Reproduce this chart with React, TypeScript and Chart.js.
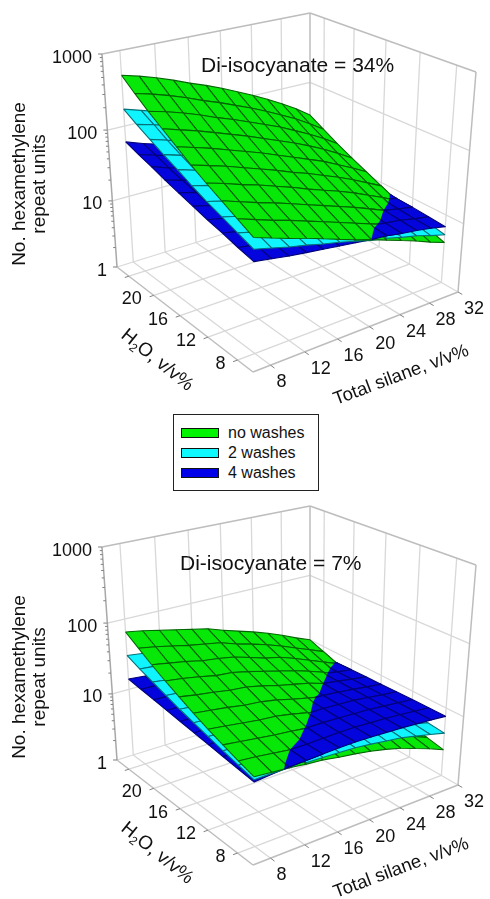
import React, { useEffect, useRef } from "react";
import { Chart, registerables } from "chart.js";

Chart.register(...registerables);

// Axis values
const silaneValues = [8, 10, 12, 14, 16, 18, 20, 22, 24, 26, 28, 30, 32];
const waterValues = [26, 24, 22, 20, 18, 16, 14, 12, 10, 8];
const silaneTicks = [8, 12, 16, 20, 24, 28, 32];
const waterTicks = [8, 12, 16, 20, 24];
const waterLabels = [8, 12, 16, 20];
const zTicks = [1, 10, 100, 1000];
const seriesNames = ["no washes", "2 washes", "4 washes"];

// log10(no. of repeat units). Rows follow waterValues, columns follow silaneValues.
const noWashes34 = [
  [2.68,2.62,2.55,2.47,2.38,2.30,2.21,2.11,2.01,1.90,1.78,1.65,1.50],
  [2.53,2.47,2.40,2.32,2.23,2.15,2.06,1.97,1.87,1.76,1.65,1.52,1.38],
  [2.39,2.33,2.26,2.18,2.09,2.01,1.92,1.83,1.74,1.63,1.52,1.40,1.26],
  [2.26,2.19,2.12,2.04,1.96,1.88,1.79,1.70,1.61,1.51,1.40,1.28,1.15],
  [2.13,2.06,1.99,1.91,1.83,1.75,1.66,1.57,1.48,1.39,1.28,1.17,1.05],
  [2.00,1.93,1.86,1.78,1.70,1.62,1.53,1.45,1.36,1.27,1.17,1.06,0.95],
  [1.88,1.81,1.73,1.66,1.58,1.50,1.41,1.33,1.25,1.16,1.06,0.96,0.85],
  [1.77,1.69,1.61,1.54,1.46,1.38,1.30,1.22,1.14,1.05,0.96,0.86,0.76],
  [1.66,1.58,1.50,1.43,1.35,1.27,1.19,1.11,1.03,0.95,0.86,0.77,0.68],
  [1.55,1.47,1.39,1.32,1.24,1.16,1.08,1.01,0.93,0.85,0.77,0.68,0.60],
];
const twoWashes34 = [
  [2.23,2.16,2.09,2.02,1.94,1.87,1.80,1.72,1.64,1.56,1.48,1.38,1.28],
  [2.12,2.06,1.99,1.91,1.84,1.77,1.70,1.63,1.55,1.47,1.39,1.30,1.20],
  [2.02,1.95,1.89,1.82,1.75,1.68,1.61,1.54,1.47,1.39,1.31,1.22,1.13],
  [1.92,1.85,1.79,1.72,1.66,1.59,1.52,1.45,1.39,1.31,1.24,1.15,1.06],
  [1.83,1.76,1.70,1.63,1.57,1.51,1.44,1.37,1.30,1.24,1.16,1.08,0.985],
  [1.73,1.67,1.61,1.54,1.48,1.42,1.35,1.29,1.23,1.16,1.09,1.005,0.92],
  [1.64,1.58,1.52,1.46,1.40,1.34,1.27,1.21,1.16,1.09,1.015,0.94,0.86],
  [1.56,1.50,1.43,1.38,1.32,1.26,1.20,1.15,1.085,1.02,0.95,0.88,0.81],
  [1.48,1.42,1.35,1.30,1.25,1.19,1.13,1.08,1.015,0.955,0.895,0.825,0.765],
  [1.40,1.34,1.28,1.23,1.17,1.12,1.06,1.00,0.955,0.895,0.845,0.775,0.715],
];
const fourWashes34 = [
  [1.78,1.70,1.63,1.56,1.50,1.44,1.38,1.32,1.27,1.22,1.17,1.11,1.05],
  [1.71,1.64,1.57,1.50,1.45,1.39,1.33,1.28,1.23,1.18,1.13,1.07,1.02],
  [1.65,1.57,1.51,1.45,1.40,1.34,1.29,1.24,1.19,1.15,1.10,1.04,0.99],
  [1.58,1.51,1.45,1.40,1.35,1.30,1.25,1.20,1.16,1.11,1.07,1.01,0.96],
  [1.52,1.46,1.40,1.35,1.30,1.26,1.21,1.16,1.12,1.08,1.04,0.99,0.93],
  [1.46,1.40,1.35,1.30,1.26,1.21,1.17,1.13,1.09,1.05,1.01,0.96,0.91],
  [1.40,1.35,1.30,1.25,1.21,1.17,1.13,1.09,1.06,1.02,0.98,0.93,0.88],
  [1.35,1.30,1.25,1.21,1.17,1.14,1.10,1.07,1.03,1.00,0.96,0.91,0.87],
  [1.29,1.25,1.20,1.17,1.14,1.10,1.07,1.04,1.01,0.97,0.94,0.89,0.85],
  [1.24,1.20,1.16,1.13,1.10,1.07,1.04,1.01,0.99,0.95,0.92,0.88,0.83],
];
const noWashes7 = [
  [1.82,1.78,1.73,1.68,1.63,1.58,1.50,1.43,1.36,1.28,1.19,1.09,1.00],
  [1.70,1.66,1.61,1.56,1.52,1.48,1.40,1.34,1.27,1.19,1.10,1.01,0.92],
  [1.58,1.54,1.50,1.45,1.42,1.38,1.31,1.24,1.19,1.11,1.02,0.93,0.84],
  [1.47,1.44,1.40,1.35,1.33,1.28,1.22,1.16,1.10,1.03,0.95,0.85,0.76],
  [1.37,1.33,1.30,1.26,1.24,1.19,1.13,1.08,1.03,0.96,0.87,0.78,0.69],
  [1.27,1.24,1.21,1.17,1.15,1.11,1.05,1.00,0.95,0.88,0.80,0.71,0.62],
  [1.18,1.15,1.12,1.09,1.07,1.03,0.98,0.93,0.89,0.82,0.73,0.65,0.55],
  [1.10,1.07,1.04,1.01,0.99,0.96,0.91,0.87,0.82,0.75,0.67,0.59,0.49],
  [1.02,1.00,0.97,0.94,0.92,0.89,0.85,0.81,0.76,0.70,0.61,0.53,0.44],
  [0.95,0.93,0.91,0.88,0.86,0.82,0.79,0.75,0.70,0.64,0.56,0.48,0.39],
];
const twoWashes7 = [
  [1.49,1.46,1.42,1.39,1.35,1.32,1.27,1.22,1.18,1.13,1.06,0.985,0.915],
  [1.41,1.39,1.35,1.32,1.29,1.26,1.21,1.17,1.13,1.08,1.015,0.95,0.88],
  [1.34,1.31,1.29,1.26,1.23,1.21,1.16,1.12,1.09,1.04,0.975,0.91,0.845],
  [1.27,1.25,1.22,1.20,1.18,1.15,1.11,1.08,1.04,1.00,0.94,0.87,0.81],
  [1.20,1.18,1.17,1.15,1.13,1.10,1.07,1.03,1.00,0.95,0.90,0.84,0.78],
  [1.14,1.13,1.11,1.09,1.08,1.05,1.015,0.985,0.955,0.915,0.86,0.80,0.745],
  [1.08,1.07,1.06,1.04,1.03,1.00,0.97,0.945,0.925,0.885,0.83,0.77,0.71],
  [1.02,1.01,1.00,0.985,0.975,0.955,0.94,0.915,0.885,0.85,0.795,0.745,0.685],
  [0.965,0.96,0.95,0.93,0.925,0.92,0.90,0.885,0.86,0.82,0.765,0.715,0.66],
  [0.91,0.915,0.91,0.90,0.895,0.885,0.875,0.85,0.82,0.79,0.74,0.69,0.635],
];
const fourWashes7 = [
  [1.15,1.13,1.11,1.09,1.07,1.05,1.03,1.01,1.00,0.98,0.93,0.88,0.83],
  [1.12,1.11,1.09,1.07,1.06,1.04,1.02,1.00,0.99,0.97,0.93,0.885,0.84],
  [1.09,1.08,1.07,1.06,1.04,1.03,1.01,1.00,0.99,0.97,0.93,0.89,0.85],
  [1.06,1.06,1.05,1.04,1.03,1.02,1.00,0.99,0.98,0.96,0.93,0.89,0.86],
  [1.03,1.03,1.03,1.03,1.02,1.01,1.00,0.98,0.97,0.96,0.93,0.895,0.865],
  [1.00,1.01,1.01,1.01,1.00,1.00,0.99,0.98,0.97,0.95,0.925,0.895,0.87],
  [0.97,0.98,0.99,0.98,0.98,0.98,0.97,0.97,0.96,0.95,0.925,0.895,0.875],
  [0.94,0.95,0.96,0.97,0.965,0.965,0.965,0.96,0.95,0.94,0.92,0.90,0.88],
  [0.91,0.925,0.94,0.94,0.94,0.95,0.955,0.955,0.945,0.935,0.92,0.90,0.88],
  [0.88,0.905,0.92,0.93,0.94,0.95,0.955,0.95,0.94,0.93,0.915,0.90,0.88],
];

// Look
const W = 490;
const H = 406;
const FONT = '"Liberation Sans", Arial, sans-serif';
const fills = ["#08e808", "#10f4ff", "#0404dc"];
const meshLines = ["#046404", "#057078", "#020278"];
const legendFills = ["#00f400", "#10f8ff", "#0000e8"];
const GRID = "#d8d8d8";
const EDGE = "#bdbdbd";
const AXIS = "#a8a8a8";
const TICK = "#808080";

// The view: a perspective box. Silane 6..32, water 6..26, three decades high.
type P = { x: number; y: number };
const S0 = 6, S1 = 32, W0 = 6, W1 = 26;
function quadMap(q: number[][]) {
  const [[x0, y0], [x1, y1], [x2, y2], [x3, y3]] = q;
  const dx1 = x1 - x2, dx2 = x3 - x2, sx = x0 - x1 + x2 - x3;
  const dy1 = y1 - y2, dy2 = y3 - y2, sy = y0 - y1 + y2 - y3;
  const den = dx1 * dy2 - dx2 * dy1;
  const g = (sx * dy2 - dx2 * sy) / den;
  const h = (dx1 * sy - sx * dy1) / den;
  const a = x1 - x0 + g * x1, b = x3 - x0 + h * x3;
  const d = y1 - y0 + g * y1, e = y3 - y0 + h * y3;
  return (u: number, v: number): P => {
    const k = g * u + h * v + 1;
    return { x: (a * u + b * v + x0) / k, y: (d * u + e * v + y0) / k };
  };
}
const floorMap = quadMap([[253, 372], [458, 292], [310, 207], [117, 267]]);
const ceilMap = quadMap([[250, 131], [476, 72], [310, 13], [102, 54]]);
function project(s: number, w: number, logZ: number): P {
  const u = (s - S0) / (S1 - S0);
  const v = (w - W0) / (W1 - W0);
  const f = floorMap(u, v);
  const c = ceilMap(u, v);
  const t = logZ / 3;
  const g = (0.9 * t) / (1 - 0.1 * t);
  return { x: f.x + (c.x - f.x) * g, y: f.y + (c.y - f.y) * g };
}

type Item = { pts: P[]; fill?: string; stroke?: string; width?: number };

function backdrop(): Item[] {
  const out: Item[] = [];
  const L = (a: P, b: P, stroke: string, width = 1.3) => out.push({ pts: [a, b], stroke, width });
  // floor
  for (const s of silaneTicks.slice(0, -1)) L(project(s, W0, 0), project(s, W1, 0), GRID);
  for (const w of waterTicks) L(project(S0, w, 0), project(S1, w, 0), GRID);
  // back walls
  for (const s of silaneTicks.slice(0, -1)) L(project(s, W1, 0), project(s, W1, 3), GRID);
  for (const w of waterTicks) L(project(S1, w, 0), project(S1, w, 3), GRID);
  for (const z of [1, 2]) {
    L(project(S0, W1, z), project(S1, W1, z), GRID);
    L(project(S1, W1, z), project(S1, W0, z), GRID);
  }
  // box edges
  L(project(S0, W1, 0), project(S1, W1, 0), GRID);
  L(project(S1, W1, 0), project(S1, W0, 0), GRID);
  L(project(S0, W1, 3), project(S1, W1, 3), EDGE, 1.5);
  L(project(S1, W1, 3), project(S1, W0, 3), EDGE, 1.5);
  L(project(S1, W1, 0), project(S1, W1, 3), EDGE, 1.5);
  L(project(S1, W0, 0), project(S1, W0, 3), EDGE, 1.5);
  L(project(S0, W0, 0), project(S1, W0, 0), EDGE, 1.5);
  L(project(S0, W0, 0), project(S0, W1, 0), EDGE, 1.5);
  L(project(S0, W1, 0), project(S0, W1, 3), AXIS, 1.5);
  // ticks
  for (const s of silaneTicks) L(project(s, W0, 0), project(s, W0 - 0.5, 0), TICK, 1);
  for (const w of waterTicks) L(project(S0, w, 0), project(S0 - 0.5, w, 0), TICK, 1);
  for (let d = 0; d < 3; d++) {
    for (let m = 1; m < 10; m++) {
      const p = project(S0, W1, d + Math.log10(m));
      L(p, { x: p.x - (m === 1 ? 4 : 2.5), y: p.y }, TICK, 1);
    }
  }
  const top = project(S0, W1, 3);
  L(top, { x: top.x - 4, y: top.y }, TICK, 1);
  return out;
}

type V = { a: number; b: number };

function surfaceItems(grids: number[][][]): Item[] {
  const out: Item[] = [];
  const nr = waterValues.length - 1;
  const nc = silaneValues.length - 1;
  for (let j = 0; j < nr; j++) {
    for (let i = nc - 1; i >= 0; i--) {
      const s0 = silaneValues[i], s1 = silaneValues[i + 1];
      const w0 = waterValues[j], w1 = waterValues[j + 1];
      const at = (k: number, a: number, b: number) => {
        const g = grids[k];
        const top = g[j][i] * (1 - a) + g[j][i + 1] * a;
        const bot = g[j + 1][i] * (1 - a) + g[j + 1][i + 1] * a;
        return top * (1 - b) + bot * b;
      };
      const pt = (k: number, a: number, b: number) =>
        project(s0 + (s1 - s0) * a, w0 + (w1 - w0) * b, at(k, a, b));
      const rank = (a: number, b: number) =>
        [0, 1, 2].sort((p, q) => at(p, a, b) - at(q, a, b)).join("");
      const order = rank(0.5, 0.5).split("").map(Number);
      for (const k of order) {
        const q = [pt(k, 0, 0), pt(k, 1, 0), pt(k, 1, 1), pt(k, 0, 1), pt(k, 0, 0)];
        out.push({ pts: q, fill: fills[k], stroke: meshLines[k], width: 1.1 });
      }
      const r = rank(0, 0);
      const crossing = [rank(1, 0), rank(0, 1), rank(1, 1)].some((x) => x !== r);
      if (!crossing) continue;
      // Where surfaces cross inside a cell, redraw the part of each that lies on top.
      for (const k of [0, 1, 2]) {
        let poly: V[] = [{ a: 0, b: 0 }, { a: 1, b: 0 }, { a: 1, b: 1 }, { a: 0, b: 1 }];
        for (const o of [0, 1, 2]) {
          if (o === k || poly.length === 0) continue;
          const f = (v: V) => at(k, v.a, v.b) - at(o, v.a, v.b);
          const next: V[] = [];
          poly.forEach((v, n) => {
            const u = poly[(n + 1) % poly.length];
            const fv = f(v), fu = f(u);
            if (fv >= 0) next.push(v);
            if ((fv >= 0) !== (fu >= 0)) {
              const t = fv / (fv - fu);
              next.push({ a: v.a + (u.a - v.a) * t, b: v.b + (u.b - v.b) * t });
            }
          });
          poly = next;
        }
        if (poly.length < 3) continue;
        const proj = poly.map((v) => pt(k, v.a, v.b));
        out.push({ pts: [...proj, proj[0]], fill: fills[k], stroke: fills[k], width: 0.3 });
        poly.forEach((v, n) => {
          const u = poly[(n + 1) % poly.length];
          const onEdge =
            (v.a === u.a && (v.a === 0 || v.a === 1)) || (v.b === u.b && (v.b === 0 || v.b === 1));
          if (onEdge) out.push({ pts: [proj[n], proj[(n + 1) % poly.length]], stroke: meshLines[k], width: 1.1 });
        });
      }
    }
  }
  return out;
}

function textPlugin(title: string, titleX: number, titleY: number) {
  return {
    id: "labels",
    afterDraw(chart: any) {
      const ctx: CanvasRenderingContext2D = chart.ctx;
      ctx.save();
      ctx.fillStyle = "#111";
      ctx.textBaseline = "alphabetic";
      const font = (n: number) => `${n}px ${FONT}`;
      // z axis
      ctx.font = font(18);
      ctx.textAlign = "right";
      zTicks.forEach((z) => {
        const p = project(S0, W1, Math.log10(z));
        ctx.fillText(String(z), p.x - 10, p.y + 8.5);
      });
      waterLabels.forEach((w) => {
        const p = project(S0, w, 0);
        ctx.fillText(String(w), p.x - 12, p.y + 9);
      });
      ctx.textAlign = "left";
      silaneTicks.forEach((s) => {
        const p = project(s, W0, 0);
        ctx.fillText(String(s), p.x + 6, p.y + 22);
      });
      // title
      ctx.font = font(21);
      ctx.fillText(title, titleX, titleY);
      // y axis title
      ctx.font = font(19);
      ctx.textAlign = "center";
      ctx.save();
      ctx.translate(24.5, 184);
      ctx.rotate(-Math.PI / 2);
      ctx.fillText("No. hexamethylene", 0, 0);
      ctx.fillText("repeat units", 0, 20);
      ctx.restore();
      // silane title
      ctx.save();
      ctx.font = font(18.5);
      ctx.translate(403, 380);
      ctx.rotate((-20.5 * Math.PI) / 180);
      ctx.fillText("Total silane, v/v%", 0, 0);
      ctx.restore();
      // water title
      ctx.save();
      ctx.textAlign = "left";
      ctx.translate(120, 337);
      ctx.rotate((39 * Math.PI) / 180);
      ctx.font = font(19);
      ctx.fillText("H", 0, 0);
      let x = ctx.measureText("H").width;
      ctx.font = font(12);
      ctx.fillText("2", x, 4);
      x += ctx.measureText("2").width;
      ctx.font = font(19);
      ctx.fillText("O, v/v%", x, 0);
      ctx.restore();
      ctx.restore();
    },
  };
}

function Panel({ grids, title, titleX, titleY, top }: { grids: number[][][]; title: string; titleX: number; titleY: number; top: number }) {
  const ref = useRef<HTMLCanvasElement>(null);
  useEffect(() => {
    const items = [...backdrop(), ...surfaceItems(grids)];
    const datasets = items
      .map((it) => ({
        data: it.pts,
        showLine: true,
        fill: it.fill ? "shape" : false,
        backgroundColor: it.fill ?? "transparent",
        borderColor: it.stroke ?? "transparent",
        borderWidth: it.width ?? 0,
        borderJoinStyle: "round",
        pointRadius: 0,
        pointHoverRadius: 0,
        tension: 0,
        clip: false,
      }))
      .reverse();
    const chart = new Chart(ref.current as HTMLCanvasElement, {
      type: "scatter",
      data: { datasets: datasets as any },
      options: {
        responsive: false,
        animation: false,
        events: [],
        layout: { padding: 0 },
        plugins: { legend: { display: false }, tooltip: { enabled: false } },
        scales: {
          x: { type: "linear", min: 0, max: W, display: false },
          y: { type: "linear", min: 0, max: H, reverse: true, display: false },
        },
      },
      plugins: [textPlugin(title, titleX, titleY)],
    });
    return () => chart.destroy();
  }, []);
  return <canvas ref={ref} width={W} height={H} style={{ position: "absolute", left: 0, top, width: W, height: H }} />;
}

function Legend() {
  return (
    <div
      style={{
        position: "absolute",
        left: 173,
        top: 414,
        width: 144,
        height: 75,
        border: "1px solid #222",
        background: "#fff",
        boxSizing: "content-box",
        fontFamily: FONT,
        fontSize: 16,
        color: "#111",
      }}
    >
      {seriesNames.map((n, i) => (
        <div key={n} style={{ position: "absolute", left: 7, top: 13 + i * 20, height: 10, display: "flex", alignItems: "center" }}>
          <span style={{ display: "inline-block", width: 36, height: 8, border: "1px solid #111", background: legendFills[i], marginRight: 9 }} />
          <span style={{ lineHeight: "10px" }}>{n}</span>
        </div>
      ))}
    </div>
  );
}

export default function App() {
  return (
    <div style={{ position: "absolute", left: 0, top: 0, width: 490, height: 899, background: "#fff", overflow: "hidden" }}>
      <Panel grids={[noWashes34, twoWashes34, fourWashes34]} title="Di-isocyanate = 34%" titleX={201} titleY={72} top={0} />
      <Legend />
      <Panel grids={[noWashes7, twoWashes7, fourWashes7]} title="Di-isocyanate = 7%" titleX={180} titleY={77} top={493} />
    </div>
  );
}
